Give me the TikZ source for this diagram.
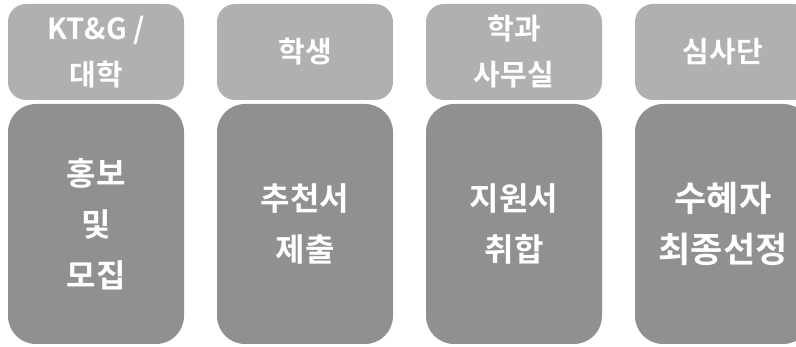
\documentclass[tikz,border=0pt]{standalone}
\usepackage{fontspec}
\newfontfamily\kr{Noto Sans CJK KR}[BoldFont={Noto Sans CJK KR Bold}]
\tikzset{
  headbox/.style={fill=headgray, rounded corners=18pt, minimum width=176pt, minimum height=96pt, inner sep=0pt, text=white, font=\kr\bfseries\fontsize{29}{46}\selectfont, align=center},
  mainbox/.style={fill=maingray, rounded corners=28pt, minimum width=176pt, minimum height=240pt, inner sep=0pt, text=white, font=\kr\bfseries\fontsize{32}{51}\selectfont, align=center},
}
\definecolor{headgray}{HTML}{B0B0B0}
\definecolor{maingray}{HTML}{909090}
\begin{document}
\begin{tikzpicture}[x=1pt,y=-1pt]
\useasboundingbox (0,0) rectangle (796,347);
\clip (0,0) rectangle (796,347);
\node[headbox] (h1) at (96,52) {KT\&G /\\대학};
\node[headbox] (h2) at (305,52) {학생};
\node[headbox] (h3) at (514,52) {학과\\사무실};
\node[headbox] (h4) at (723,52) {심사단};
\node[mainbox] (m1) at (96,224) {홍보\\및\\모집};
\node[mainbox] (m2) at (305,224) {추천서\\제출};
\node[mainbox] (m3) at (514,224) {지원서\\취합};
\node[mainbox, font=\kr\bfseries\fontsize{35}{51}\selectfont] (m4) at (723,224) {수혜자\\최종선정};
\end{tikzpicture}
\end{document}
